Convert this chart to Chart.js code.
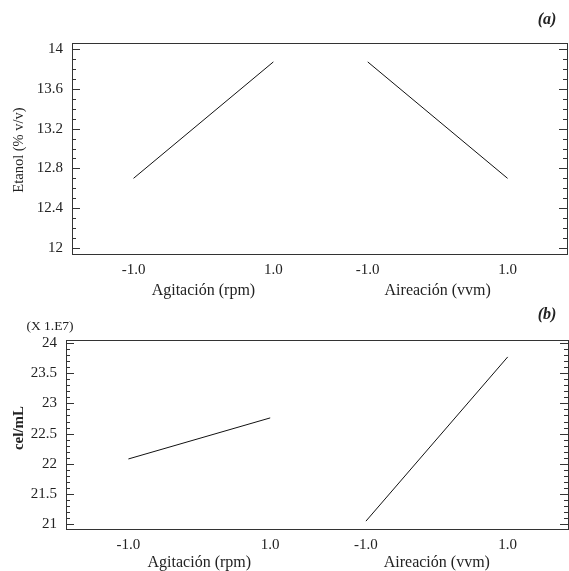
<!DOCTYPE html>
<html>
<head>
<meta charset="utf-8">
<script src="https://cdn.jsdelivr.net/npm/chart.js@4"></script>
<style>
  body { margin: 0; background: #fff; }
  .panel { position: absolute; left: 0; width: 569px; }
  #panelA { top: 0; height: 300px; }
  #panelB { top: 300px; height: 271px; }
</style>
</head>
<body>
<div class="panel" id="panelA"><canvas id="chartA" width="569" height="300"></canvas></div>
<div class="panel" id="panelB"><canvas id="chartB" width="569" height="271"></canvas></div>
<script>
// Main effects: two factors, low/high level
const factorNames = ['Agitación (rpm)', 'Aireación (vvm)'];
const levels = [-1, 1];
const levelLabels = ['-1.0', '1.0'];

// (a) Etanol (% v/v)
const etanolAgitacion = [12.70, 13.87];
const etanolAireacion = [13.87, 12.70];
const etanolTicks = [12, 12.4, 12.8, 13.2, 13.6, 14];

// (b) cel/mL (x 1.E7)
const celAgitacion = [22.08, 22.76];
const celAireacion = [21.05, 23.77];
const celTicks = [21, 21.5, 22, 22.5, 23, 23.5, 24];

const FACTOR_OFFSET = 3.35; // horizontal gap between factor groups
const SERIF = '"Liberation Serif", "DejaVu Serif", serif';
const TEXT = '#222';

function xPos(factorIdx, level) {
  return factorIdx * FACTOR_OFFSET + level;
}

function series(factorIdx, values) {
  return {
    data: levels.map((lv, i) => ({ x: xPos(factorIdx, lv), y: values[i] })),
    borderColor: '#111',
    borderWidth: 1,
    pointRadius: 0,
    fill: false,
    tension: 0
  };
}

// frame, inside ticks, titles
const decorPlugin = {
  id: 'decor',
  afterDraw(chart, args, opts) {
    const ctx = chart.ctx;
    const a = chart.chartArea;
    const y = chart.scales.y;
    const x = chart.scales.x;
    ctx.save();

    ctx.strokeStyle = '#333';
    ctx.lineWidth = 1;
    ctx.strokeRect(a.left + 0.5, a.top + 0.5, a.right - a.left, a.bottom - a.top);

    // minor ticks every 0.1, major on tick list
    const lo = opts.ticks[0], hi = opts.ticks[opts.ticks.length - 1];
    ctx.beginPath();
    for (let k = Math.round(lo * 10); k <= Math.round(hi * 10); k++) {
      const v = k / 10;
      const major = opts.ticks.some(t => Math.abs(t - v) < 1e-6);
      const len = major ? 8 : 4;
      const py = Math.round(y.getPixelForValue(v)) + 0.5;
      ctx.moveTo(a.left, py); ctx.lineTo(a.left + len, py);
      ctx.moveTo(a.right, py); ctx.lineTo(a.right - len, py);
    }
    ctx.stroke();

    ctx.fillStyle = TEXT;
    ctx.textAlign = 'center';
    ctx.textBaseline = 'middle';

    // factor titles
    ctx.font = '16px ' + SERIF;
    factorNames.forEach((name, f) => {
      const cx = (x.getPixelForValue(xPos(f, -1)) + x.getPixelForValue(xPos(f, 1))) / 2;
      ctx.fillText(name, cx, a.bottom + opts.xTitleGap);
    });

    // y title
    ctx.save();
    ctx.translate(19, opts.yTitleY);
    ctx.rotate(-Math.PI / 2);
    ctx.font = opts.yTitleFont;
    ctx.fillText(opts.yTitle, 0, 0);
    ctx.restore();

    // panel label
    ctx.font = 'italic bold 16px ' + SERIF;
    ctx.fillText(opts.label, 547, opts.labelY);

    if (opts.multiplier) {
      ctx.font = '13.5px ' + SERIF;
      ctx.fillText(opts.multiplier, 50, 26);
    }
    ctx.restore();
  }
};

function makeChart(canvasId, dataA, dataB, ticks, yMin, yMax, yWidth, pad, decor) {
  return new Chart(document.getElementById(canvasId), {
    type: 'line',
    data: { datasets: [series(0, dataA), series(1, dataB)] },
    options: {
      responsive: false,
      animation: false,
      layout: { padding: pad },
      plugins: { legend: { display: false }, tooltip: { enabled: false }, decor: decor },
      scales: {
        x: {
          type: 'linear',
          min: -1.88,
          max: 5.2,
          border: { display: false },
          grid: { display: false, drawTicks: false, tickLength: 0 },
          afterFit: s => { s.height = 28; },
          afterBuildTicks: s => {
            s.ticks = [];
            factorNames.forEach((n, f) => levels.forEach(lv => s.ticks.push({ value: xPos(f, lv) })));
          },
          ticks: {
            padding: 7,
            color: TEXT,
            font: { family: SERIF, size: 15 },
            callback: (v, i) => levelLabels[i % levelLabels.length]
          }
        },
        y: {
          min: yMin,
          max: yMax,
          border: { display: false },
          grid: { display: false, drawTicks: false, tickLength: 0 },
          afterFit: s => { s.width = yWidth; },
          afterBuildTicks: s => { s.ticks = ticks.map(v => ({ value: v })); },
          ticks: {
            padding: 9,
            color: TEXT,
            font: { family: SERIF, size: 15 },
            callback: v => String(v)
          }
        }
      }
    },
    plugins: [decorPlugin]
  });
}

makeChart('chartA', etanolAgitacion, etanolAireacion, etanolTicks, 11.94, 14.06, 72,
  { top: 43, right: 2, bottom: 18, left: 0 },
  { ticks: etanolTicks, xTitleGap: 37, yTitle: 'Etanol (% v/v)', yTitleY: 150,
    yTitleFont: '14.5px ' + SERIF, label: '(a)', labelY: 20 });

makeChart('chartB', celAgitacion, celAireacion, celTicks, 20.92, 24.05, 66,
  { top: 40, right: 1, bottom: 14, left: 0 },
  { ticks: celTicks, xTitleGap: 34, yTitle: 'cel/mL', yTitleY: 128,
    yTitleFont: 'bold 15px ' + SERIF, label: '(b)', labelY: 15, multiplier: '(X 1.E7)' });
</script>
</body>
</html>
